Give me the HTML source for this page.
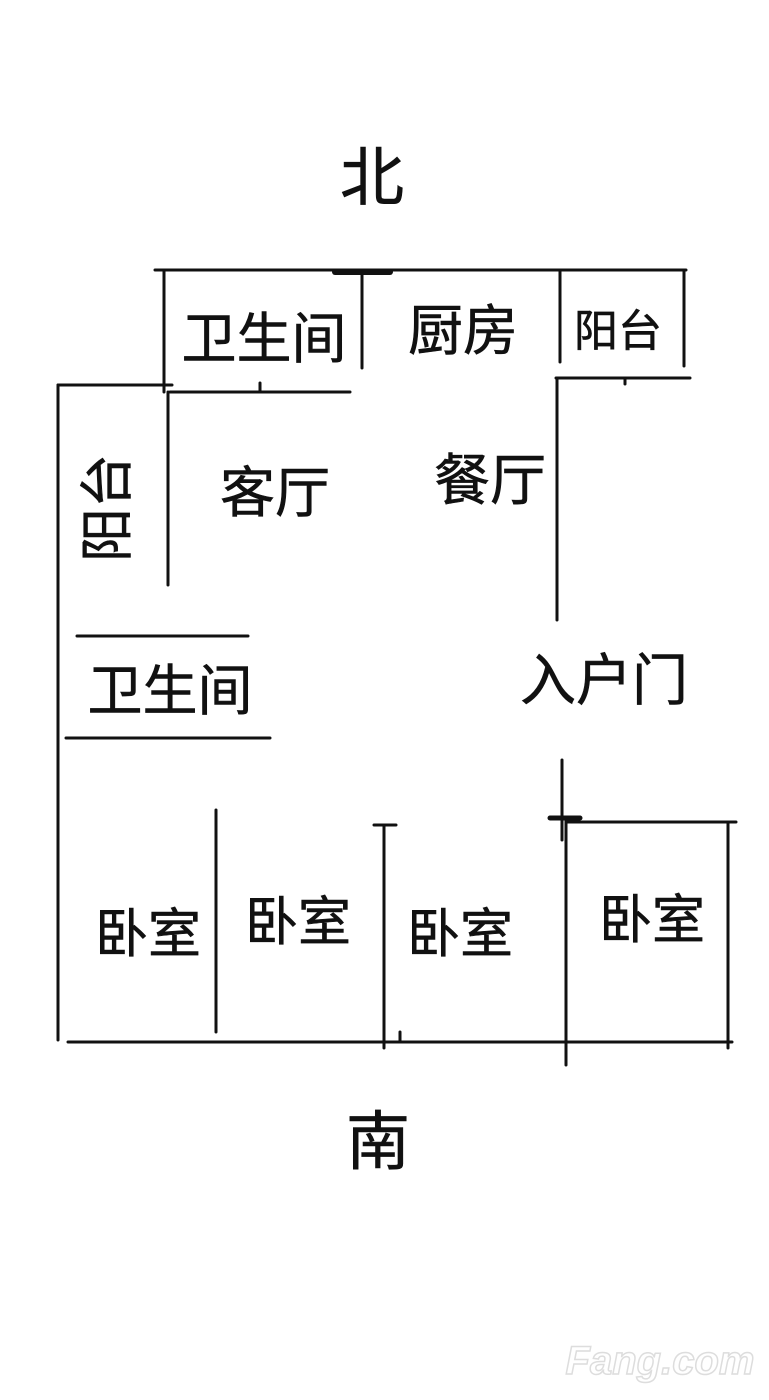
<!DOCTYPE html>
<html><head><meta charset="utf-8"><style>
html,body{margin:0;padding:0;background:#fff;}
svg{display:block}
text{font-family:"Liberation Sans","Noto Sans CJK SC",sans-serif;fill:#111;stroke:#111;stroke-width:0.6;}
</style></head><body>
<svg width="769" height="1400" viewBox="0 0 769 1400" xmlns="http://www.w3.org/2000/svg">
<g stroke="#111" stroke-width="3" stroke-linecap="round" fill="none">
<line x1="155" y1="270" x2="686" y2="270"/>
<line x1="335" y1="272" x2="390" y2="272" stroke-width="6"/>
<line x1="164" y1="270" x2="164" y2="392"/>
<line x1="362" y1="272" x2="362" y2="368"/>
<line x1="560" y1="270" x2="560" y2="362"/>
<line x1="684" y1="270" x2="684" y2="366"/>
<line x1="556" y1="378" x2="690" y2="378"/>
<line x1="557" y1="378" x2="557" y2="620"/>
<line x1="625" y1="378" x2="625" y2="384"/>
<line x1="58" y1="385" x2="172" y2="385"/>
<line x1="58" y1="385" x2="58" y2="1040"/>
<line x1="170" y1="392" x2="350" y2="392"/>
<line x1="168" y1="392" x2="168" y2="585"/>
<line x1="260" y1="383" x2="260" y2="392"/>
<line x1="77" y1="636" x2="248" y2="636"/>
<line x1="66" y1="738" x2="270" y2="738"/>
<line x1="216" y1="810" x2="216" y2="1032"/>
<line x1="374" y1="825" x2="396" y2="825"/>
<line x1="384" y1="825" x2="384" y2="1048"/>
<line x1="400" y1="1032" x2="400" y2="1042"/>
<line x1="562" y1="760" x2="562" y2="840"/>
<line x1="566" y1="818" x2="566" y2="1065"/>
<line x1="550" y1="818" x2="580" y2="818" stroke-width="5"/>
<line x1="566" y1="822" x2="736" y2="822"/>
<line x1="728" y1="822" x2="728" y2="1048"/>
<line x1="68" y1="1042" x2="732" y2="1042"/>
</g>
<g text-anchor="middle">
<text x="372" y="200" font-size="64">北</text>
<text x="264" y="358" font-size="55">卫生间</text>
<text x="463" y="350" font-size="55">厨房</text>
<text x="618" y="346" font-size="44">阳台</text>
<text x="275" y="512" font-size="55">客厅</text>
<text x="490" y="500" font-size="56">餐厅</text>
<text x="170" y="710" font-size="55">卫生间</text>
<text x="604" y="700" font-size="56">入户门</text>
<text x="148" y="952" font-size="53">卧室</text>
<text x="298" y="940" font-size="53">卧室</text>
<text x="460" y="952" font-size="53">卧室</text>
<text x="652" y="938" font-size="53">卧室</text>
<text x="378" y="1164" font-size="64">南</text>
<g transform="rotate(-90 107 508)"><text x="107" y="527" font-size="54">阳台</text></g>
<text x="660" y="1374" font-size="40" font-weight="bold" style="fill:#fff;stroke:#ddd;stroke-width:1.5" font-style="italic">Fang.com</text>
</g>
</svg>
</body></html>
